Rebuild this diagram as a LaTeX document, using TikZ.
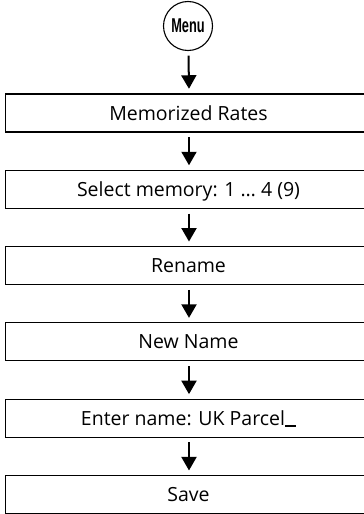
\documentclass[tikz,border=0pt]{standalone}
\usepackage{fontspec}
\usepackage{graphicx}
\setmainfont{Open Sans}
\newfontfamily\menufont{Liberation Sans}
\usetikzlibrary{arrows.meta}
\begin{document}
\begin{tikzpicture}[x=1pt,y=1pt,
  stepbox/.style={draw, line width=1.1pt, rectangle, minimum width=366pt, minimum height=38pt, inner sep=0pt, font=\fontsize{19.5pt}{22pt}\selectfont, text depth=0pt},
  menubtn/.style={draw, line width=1.1pt, circle, minimum size=49pt, inner sep=0pt, font=\menufont\bfseries\fontsize{20pt}{22pt}\selectfont},
  arr/.style={line width=2pt, -{Triangle[width=15pt,length=13.5pt]}}]
\useasboundingbox (0,0) rectangle (364,-514);
\node[menubtn] (menu) at (188,-26) {\raisebox{-1.5pt}{\scalebox{0.64}[1]{Menu}}};
\node[stepbox] (b1) at (188.5,-113) {Memorized Rates};
\node[stepbox] (b2) at (188.5,-189.3) {Select memory: 1 \dots{} 4 (9)};
\node[stepbox] (b3) at (188.5,-265.6) {Rename};
\node[stepbox] (b4) at (188.5,-341.9) {New Name};
\node[stepbox] (b5) at (188.5,-418.2) {Enter name: UK Parcel\rule[-1pt]{11pt}{2pt}};
\node[stepbox] (b6) at (188.5,-494.5) {Save};
\draw[arr] ([xshift=0.5pt,yshift=-4.5pt]menu.south) -- ([xshift=0.5pt,yshift=4.7pt]b1.north);
\draw[arr] ([xshift=0.5pt,yshift=-4.7pt]b1.south) -- ([xshift=0.5pt,yshift=4.5pt]b2.north);
\draw[arr] ([xshift=0.5pt,yshift=-4.7pt]b2.south) -- ([xshift=0.5pt,yshift=4.5pt]b3.north);
\draw[arr] ([xshift=0.5pt,yshift=-4.7pt]b3.south) -- ([xshift=0.5pt,yshift=4.5pt]b4.north);
\draw[arr] ([xshift=0.5pt,yshift=-4.7pt]b4.south) -- ([xshift=0.5pt,yshift=4.5pt]b5.north);
\draw[arr] ([xshift=0.5pt,yshift=-4.7pt]b5.south) -- ([xshift=0.5pt,yshift=4.5pt]b6.north);
\end{tikzpicture}
\end{document}
